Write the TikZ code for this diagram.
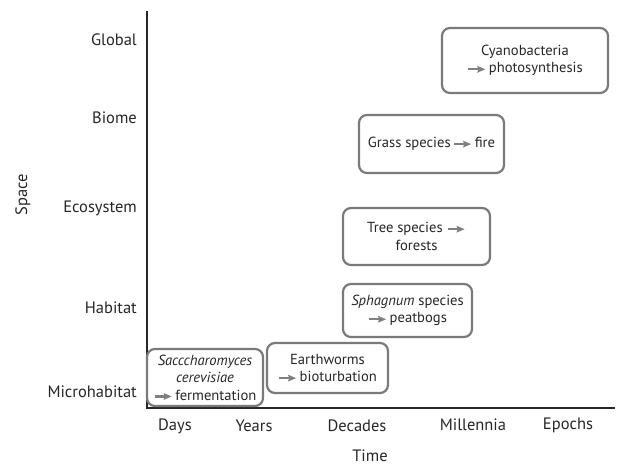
\documentclass[tikz,border=0pt]{standalone}
\usepackage{fontspec}
\setmainfont{PT Sans}
\usetikzlibrary{arrows.meta}
\newcommand\garr{\tikz[baseline=-0.5ex]\draw[draw=black!50, fill=black!60, line width=2.2pt, -{Stealth[length=8pt,width=6.5pt,inset=1pt]}] (0pt,0pt)--(17pt,0pt);}
\begin{document}
\begin{tikzpicture}[x=1pt,y=-1pt,
  lbl/.style={font=\fontsize{16.5}{19}\selectfont, text=black!85, inner sep=0pt},
  box/.style={draw=black!52, line width=2.2pt, rounded corners=8pt, align=center, inner sep=0pt,
    font=\fontsize{14.6}{17.5}\selectfont, text=black!85},
  axis/.style={draw=black!85, line width=1.3pt}]
\useasboundingbox (0,0) rectangle (617,466);
% axes
\coordinate (top) at (147,11);
\coordinate (origin) at (147,408);
\coordinate (xend) at (615,408);
\draw[axis] (top) -- (origin) -- (xend);
% y labels
\node[lbl, anchor=east] (global) at (137,40) {Global};
\node[lbl, anchor=east] (biome) at (137,118) {Biome};
\node[lbl, anchor=east] (ecosystem) at (137,208) {Ecosystem};
\node[lbl, anchor=east] (habitat) at (137,308) {Habitat};
\node[lbl, anchor=east] (micro) at (137,392) {Microhabitat};
\node[lbl, rotate=90] (space) at (23,195) {Space};
% x labels
\node[lbl] (days) at (175,426) {Days};
\node[lbl] (years) at (254,426) {Years};
\node[lbl] (decades) at (357,426) {Decades};
\node[lbl] (millennia) at (473,425) {Millennia};
\node[lbl] (epochs) at (568,425) {Epochs};
\node[lbl] (time) at (370,456) {Time};
% boxes
\node[box, minimum width=116pt, minimum height=57pt] (sacc) at (205,377.5)
  {\textit{Sacccharomyces}\\\textit{cerevisiae}\\\garr\,fermentation};
\node[box, minimum width=121pt, minimum height=50pt] (earth) at (327.5,368)
  {Earthworms\\\garr\,bioturbation};
\node[box, minimum width=129pt, minimum height=53pt] (sphag) at (407.5,310.5)
  {\textit{Sphagnum} species\\\garr\,peatbogs};
\node[box, minimum width=147pt, minimum height=57pt] (tree) at (416.5,236.5)
  {Tree species \garr\\forests};
\node[box, minimum width=145pt, minimum height=58pt] (grass) at (431.5,144)
  {Grass species\,\garr\,fire};
\node[box, minimum width=166pt, minimum height=65pt] (cyano) at (525,60.5)
  {Cyanobacteria\\\garr\,photosynthesis};
\end{tikzpicture}
\end{document}
